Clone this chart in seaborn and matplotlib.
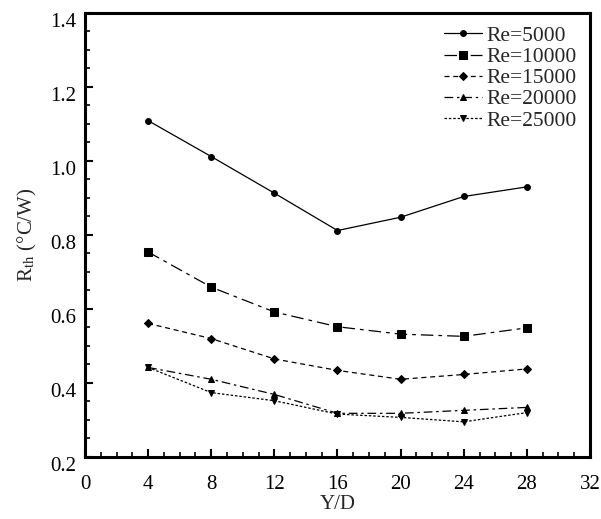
import matplotlib
matplotlib.use("Agg")
import matplotlib.pyplot as plt
from matplotlib.ticker import MultipleLocator
from matplotlib.transforms import ScaledTranslation
import seaborn as sns
import pandas as pd

# Spacing ratio Y/D and thermal resistance for each Reynolds number
yd = [4, 8, 12, 16, 20, 24, 28]
rth_re5000 = [1.109, 1.012, 0.913, 0.812, 0.848, 0.904, 0.930]
rth_re10000 = [0.754, 0.659, 0.592, 0.552, 0.532, 0.526, 0.549]
rth_re15000 = [0.561, 0.520, 0.465, 0.434, 0.410, 0.423, 0.438]
rth_re20000 = [0.442, 0.410, 0.369, 0.318, 0.318, 0.326, 0.334]
rth_re25000 = [0.442, 0.374, 0.352, 0.316, 0.307, 0.295, 0.320]
labels = ["Re=5000", "Re=10000", "Re=15000", "Re=20000", "Re=25000"]
xticks = [0, 4, 8, 12, 16, 20, 24, 28, 32]
yticks = [0.2, 0.4, 0.6, 0.8, 1.0, 1.2, 1.4]
ytick_labels = ["0.2", "0.4", "0.6", "0.8", "1.0", "1.2", "1.4"]

series = [rth_re5000, rth_re10000, rth_re15000, rth_re20000, rth_re25000]
styles = [
    dict(marker="o", ms=4.2, dashes=()),
    dict(marker="s", ms=5.5, dashes=(10, 4, 3, 4)),
    dict(marker="D", ms=4.0, dashes=(4, 3)),
    dict(marker="^", ms=5.0, dashes=(7, 3, 2, 3)),
    dict(marker="v", ms=5.0, dashes=(2, 1.5)),
]

sns.set_theme(style="ticks")
plt.rcParams["font.family"] = ["Liberation Serif", "DejaVu Serif"]
plt.rcParams["mathtext.fontset"] = "stix"

fig = plt.figure(figsize=(6.01, 5.19), dpi=100)
ax = fig.add_axes([0.1414, 0.1195, 0.8403, 0.8555])

for vals, lab, st in zip(series, labels, styles):
    df = pd.DataFrame({"Y/D": yd, "Rth": vals})
    kw = dict(marker=st["marker"], markersize=st["ms"], color="black",
              linewidth=0.9, markeredgecolor="black", label=lab)
    if st["dashes"]:
        kw["dashes"] = st["dashes"]
    sns.lineplot(data=df, x="Y/D", y="Rth", ax=ax, **kw)

ax.set_xlim(0, 32)
ax.set_ylim(0.2, 1.4)
ax.set_xticks(xticks)
ax.xaxis.set_minor_locator(MultipleLocator(1))
ax.set_yticks(yticks)
ax.set_yticklabels(ytick_labels)
ax.yaxis.set_minor_locator(MultipleLocator(0.05))

ax.tick_params(axis="both", which="both", direction="in", top=False, right=False,
               labelsize=15, colors="black")
ax.tick_params(axis="x", which="major", pad=13)
ax.tick_params(axis="y", which="major", pad=6)
ax.tick_params(which="major", length=6, width=1.5)
ax.tick_params(which="minor", length=3.5, width=1.2)
for sp in ax.spines.values():
    sp.set_linewidth(2.2)
    sp.set_color("black")

# y tick labels sit slightly below their ticks
shift = ScaledTranslation(0, -5 / 72, fig.dpi_scale_trans)
for t in ax.get_yticklabels():
    t.set_transform(t.get_transform() + shift)

ax.set_xlabel("Y/D", fontsize=15, labelpad=1)
ax.set_ylabel(r"R$_{\rm th}$ (°C/W)", fontsize=15, labelpad=8)

leg = ax.legend(loc="upper right", frameon=False, fontsize=15.5, handlelength=1.8,
                handletextpad=0.2, labelspacing=0.05, borderaxespad=0.3,
                borderpad=0.3)

fig.savefig("out.png", dpi=100)
